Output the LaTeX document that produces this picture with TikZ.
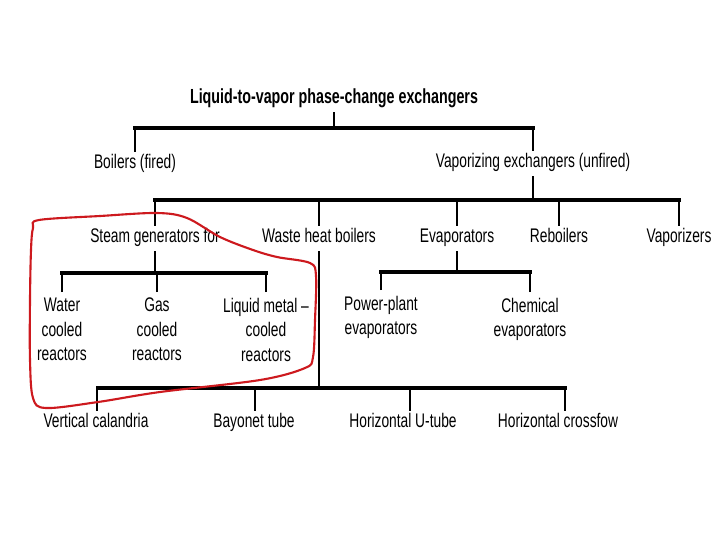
\documentclass[tikz,border=0pt]{standalone}
\usepackage{fontspec}
\setmainfont{Liberation Sans}[FakeStretch=0.70]
\definecolor{penred}{RGB}{205,25,30}
\tikzset{
  lbl/.style={anchor=base,inner sep=4pt,text height=.72em,text depth=.22em,font=\fontsize{14}{17.5}\selectfont},
  multi/.style={anchor=north,inner sep=4pt,align=center,font=\fontsize{14}{17.5}\selectfont},
  stem/.style={line width=1.4pt},
  bar/.style={line width=2.2pt,line cap=rect},
}
\begin{document}
\begin{tikzpicture}[x=0.025cm,y=-0.025cm]
		\useasboundingbox[fill=white] (0,0) rectangle (720,540);
		% Các nút
		\node[lbl,font=\fontsize{14.5}{16}\selectfont\bfseries] (root) at (334,103) {Liquid-to-vapor phase-change exchangers};
		\node[lbl] (boil) at (135,168) {Boilers (fired)};
		\node[lbl] (vap) at (533,167) {Vaporizing exchangers (unfired)};
		\node[lbl] (steam) at (155,242) {Steam generators for};
		\node[lbl] (waste) at (319,242) {Waste heat boilers};
		\node[lbl] (evap) at (457,242) {Evaporators};
		\node[lbl] (reb) at (559,242) {Reboilers};
		\node[lbl] (vapz) at (679,242) {Vaporizers};
		\node[multi] (water) at (62,292) {Water\\cooled\\reactors};
		\node[multi] (gas) at (157,292) {Gas\\cooled\\reactors};
		\node[multi] (liq) at (266,292) {Liquid metal --\\cooled\\reactors};
		\node[multi] (pp) at (381,290) {Power-plant\\evaporators};
		\node[multi] (chem) at (530,292) {Chemical\\evaporators};
		\node[lbl] (vert) at (96,427) {Vertical calandria};
		\node[lbl] (bay) at (254,427) {Bayonet tube};
		\node[lbl] (hu) at (403,427) {Horizontal U-tube};
		\node[lbl] (hc) at (558,427) {Horizontal crossfow};
		% Các thanh ngang
		\coordinate (r1) at (0,128);
		\coordinate (r2) at (0,200);
		\coordinate (r3) at (0,273);
		\coordinate (r4) at (0,272);
		\coordinate (r5) at (0,388);
		% Cấp 1
		\draw[stem] (root.south) -- (root.south |- r1);
		\draw[bar] (boil.north |- r1) -- (vap.north |- r1);
		\draw[stem] (boil.north) -- (boil.north |- r1);
		\draw[stem] (vap.north) -- (vap.north |- r1);
		% Cấp 2
		\draw[stem] (vap.south) -- (vap.south |- r2);
		\draw[bar] (steam.north |- r2) -- (vapz.north |- r2);
		\foreach \n in {steam,waste,evap,reb,vapz}
			\draw[stem] (\n.north) -- (\n.north |- r2);
		% Steam generators
		\draw[stem] (steam.south) -- (steam.south |- r3);
		\draw[bar] (water.north |- r3) -- (liq.north |- r3);
		\foreach \n in {water,gas,liq}
			\draw[stem] (\n.north) -- (\n.north |- r3);
		% Evaporators
		\draw[stem] (evap.south) -- (evap.south |- r4);
		\draw[bar] (pp.north |- r4) -- (chem.north |- r4);
		\foreach \n in {pp,chem}
			\draw[stem] (\n.north) -- (\n.north |- r4);
		% Waste heat boilers
		\draw[stem] (waste.south) -- (waste.south |- r5);
		\draw[bar] ([xshift=1pt]vert.north |- r5) -- ([xshift=5pt]hc.north |- r5);
		\draw[stem] ([xshift=1pt]vert.north) -- ([xshift=1pt]vert.north |- r5);
		\draw[stem] ([xshift=1pt]bay.north) -- ([xshift=1pt]bay.north |- r5);
		\draw[stem] ([xshift=5pt]hu.north) -- ([xshift=5pt]hu.north |- r5);
		\draw[stem] ([xshift=5pt]hc.north) -- ([xshift=5pt]hc.north |- r5);
		% Vòng khoanh đỏ
		\draw[penred,line width=1.5pt] plot[smooth cycle,tension=.55] coordinates {
			(33,228) (39,220) (100,216) (157,213) (187,218) (220,237) (253,250)
			(277,257) (310,263) (316,276) (315,320) (313,357) (305,368) (260,380)
			(160,392) (98,402) (46,408) (33,398) (30,360) (30,300) (31,250)};
\end{tikzpicture}
\end{document}
